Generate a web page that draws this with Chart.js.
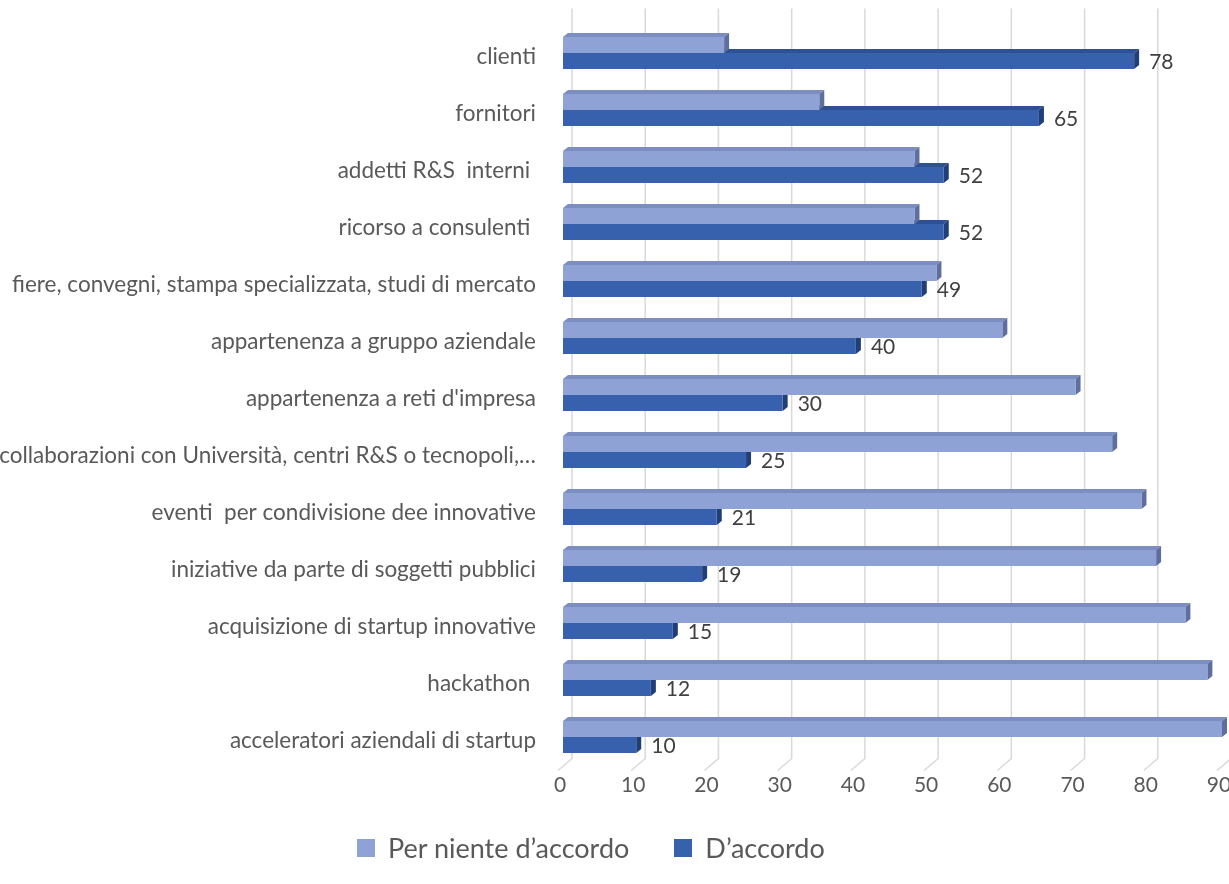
<!DOCTYPE html>
<html lang="it">
  <head>
    <meta charset="UTF-8" />
    <meta name="viewport" content="width=device-width, initial-scale=1.0" />
    <script src="https://cdn.jsdelivr.net/npm/chart.js"></script>
    <title>Fonti di innovazione</title>
    <style>
      html, body { margin: 0; padding: 0; background: #fff; }
      #wrap { position: relative; width: 1229px; height: 884px; }
      canvas { display: block; }
      .legenda {
        position: absolute;
        left: 357px;
        top: 832px;
        display: flex;
        gap: 45px;
        font-family: Lato, sans-serif;
        font-size: 27px;
        line-height: 32px;
        color: #595959;
      }
      .legenda span { display: flex; align-items: center; gap: 13px; }
      .legenda i { display: inline-block; width: 18px; height: 18px; }
    </style>
  </head>
  <body>
    <div id="wrap">
      <canvas id="fontiChart" width="1229" height="884"></canvas>
      <div class="legenda" id="legenda"></div>
    </div>
    <script>
      const categorie = [
        'clienti',
        'fornitori',
        'addetti R&S  interni ',
        'ricorso a consulenti ',
        'fiere, convegni, stampa specializzata, studi di mercato',
        'appartenenza a gruppo aziendale',
        "appartenenza a reti d'impresa",
        'collaborazioni con Università, centri R&S o tecnopoli,…',
        'eventi  per condivisione dee innovative',
        'iniziative da parte di soggetti pubblici',
        'acquisizione di startup innovative',
        'hackathon ',
        'acceleratori aziendali di startup'
      ];
      const perNiente = [22, 35, 48, 48, 51, 60, 70, 75, 79, 81, 85, 88, 90];
      const daccordo = [78, 65, 52, 52, 49, 40, 30, 25, 21, 19, 15, 12, 10];
      const valoriAsse = [0, 10, 20, 30, 40, 50, 60, 70, 80, 90];

      const grigio = '#595959';
      Chart.defaults.font.family = 'Lato';

      // depth of the bars (px)
      const DX = 5, DY = 4;
      const facce = [
        { top: '#7c8dc0', side: '#5e6f9f' },
        { top: '#2d5193', side: '#213e76' }
      ];

      // back wall grid + floor, and the top/side faces of every bar
      const profondita = {
        id: 'profondita',
        beforeDatasetsDraw(chart) {
          const { ctx, chartArea, scales: { x } } = chart;
          ctx.save();
          ctx.strokeStyle = '#d9d9d9';
          ctx.lineWidth = 1.5;
          x.ticks.forEach(t => {
            const px = x.getPixelForValue(t.value);
            ctx.beginPath();
            ctx.moveTo(px + 9, chartArea.top - 16);
            ctx.lineTo(px + 9, chartArea.bottom - 7);
            ctx.lineTo(px - 5, chartArea.bottom + 5);
            ctx.stroke();
          });
          ctx.restore();
        },
        beforeDatasetDraw(chart, args) {
          const { ctx } = chart;
          const c = facce[args.index];
          ctx.save();
          args.meta.data.forEach(bar => {
            const { x, y, base, height } = bar.getProps(['x', 'y', 'base', 'height'], true);
            const top = y - height / 2, bottom = y + height / 2;
            ctx.fillStyle = c.top;
            ctx.beginPath();
            ctx.moveTo(base, top);
            ctx.lineTo(base + DX, top - DY);
            ctx.lineTo(x + DX, top - DY);
            ctx.lineTo(x, top);
            ctx.closePath();
            ctx.fill();
            ctx.fillStyle = c.side;
            ctx.beginPath();
            ctx.moveTo(x, top);
            ctx.lineTo(x + DX, top - DY);
            ctx.lineTo(x + DX, bottom - DY);
            ctx.lineTo(x, bottom);
            ctx.closePath();
            ctx.fill();
          });
          ctx.restore();
        }
      };

      // value labels on the "D'accordo" bars
      const etichette = {
        id: 'etichette',
        afterDatasetsDraw(chart) {
          const { ctx } = chart;
          const meta = chart.getDatasetMeta(1);
          ctx.save();
          ctx.font = '21px Lato';
          ctx.fillStyle = '#404040';
          ctx.textAlign = 'left';
          ctx.textBaseline = 'middle';
          meta.data.forEach((bar, i) => {
            ctx.fillText(String(daccordo[i]), bar.x + DX + 10, bar.y + 1);
          });
          ctx.restore();
        }
      };

      const ctx = document.getElementById('fontiChart').getContext('2d');
      const chart = new Chart(ctx, {
        type: 'bar',
        data: {
          labels: categorie,
          datasets: [
            {
              label: 'Per niente d’accordo',
              data: perNiente,
              backgroundColor: '#8fa2d6',
              borderWidth: 0,
              barPercentage: 1,
              categoryPercentage: 0.5614
            },
            {
              label: 'D’accordo',
              data: daccordo,
              backgroundColor: '#3761ad',
              borderWidth: 0,
              barPercentage: 1,
              categoryPercentage: 0.5614
            }
          ]
        },
        options: {
          indexAxis: 'y',
          responsive: false,
          animation: false,
          layout: { padding: { top: 24.5, right: 7, bottom: 0, left: 0 } },
          scales: {
            x: {
              min: 0,
              max: 90,
              afterBuildTicks: s => { s.ticks = valoriAsse.map(v => ({ value: v })); },
              afterFit: s => {
                s.height = 118.5;
                s.paddingLeft = 0;
                s.paddingRight = 0;
              },
              grid: { display: false, drawTicks: false },
              border: { display: false },
              ticks: { color: grigio, font: { size: 21 }, padding: 7, labelOffset: -3 }
            },
            y: {
              afterFit: s => {
                s.width = 563;
                s.paddingTop = 0;
                s.paddingBottom = 0;
              },
              grid: { display: false, drawTicks: false },
              border: { display: false },
              ticks: { color: grigio, font: { size: 22.5 }, padding: 27, labelOffset: 4, autoSkip: false }
            }
          },
          plugins: {
            legend: { display: false },
            tooltip: { enabled: false }
          }
        },
        plugins: [profondita, etichette]
      });

      // legend built from the datasets
      const legenda = document.getElementById('legenda');
      chart.data.datasets.forEach(ds => {
        const item = document.createElement('span');
        const box = document.createElement('i');
        box.style.background = ds.backgroundColor;
        item.appendChild(box);
        item.appendChild(document.createTextNode(ds.label));
        legenda.appendChild(item);
      });
    </script>
  </body>
</html>
